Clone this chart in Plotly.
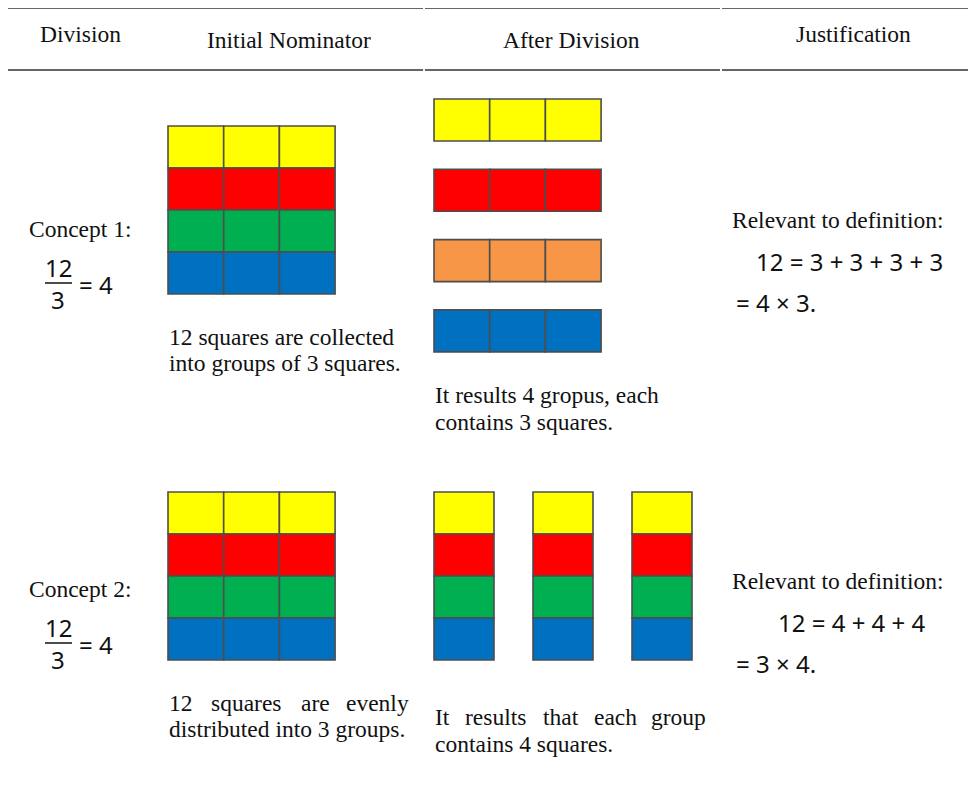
import plotly.graph_objects as go

# ---------------- data ----------------
header_labels = ["Division", "Initial Nominator", "After Division", "Justification"]
grid_row_colors = ["#FFFF00", "#FF0000", "#00B050", "#0070C0"]   # 12 squares: 4 rows x 3
grid_cols = 3
c1_group_colors = ["#FFFF00", "#FF0000", "#F79646", "#0070C0"]  # 4 groups of 3
c1_group_size = 3
c2_group_count = 3                                              # 3 groups of 4
c2_square_colors = ["#FFFF00", "#FF0000", "#00B050", "#0070C0"]

concept_labels = ["Concept 1:", "Concept 2:"]
fraction_num, fraction_den, fraction_res = "12", "3", "= 4"
c1_initial_text = ["12 squares are collected", "into groups of 3 squares."]
c1_after_text = ["It results 4 gropus, each", "contains 3 squares."]
c2_initial_text = ["12 squares are evenly", "distributed into 3 groups."]
c2_after_text = ["It results that each group", "contains 4 squares."]
just_title = "Relevant to definition:"
c1_math = ["12 = 3 + 3 + 3 + 3", "= 4 × 3."]
c2_math = ["12 = 4 + 4 + 4", "= 3 × 4."]

# ---------------- layout constants ----------------
W, H = 976, 790
OFF = 8  # page body margin
SERIF = "Liberation Serif"
MATH = "Noto Sans"
FS = 23.5
MFS = 24
TXT = "#111111"
EDGE = "#4d4d4d"
CELL_W, CELL_H = 55.7, 42.0

fig = go.Figure()
shapes = []
annots = []


def text(x, y, s, anchor="left", size=FS, family=SERIF):
    annots.append(dict(x=x, y=y, xref="x", yref="y", text=s, showarrow=False,
                       xanchor=anchor, yanchor="middle", borderpad=0,
                       font=dict(family=family, size=size, color=TXT)))


def rect(x0, y0, x1, y1, color):
    shapes.append(dict(type="rect", xref="x", yref="y", x0=x0, y0=y0, x1=x1, y1=y1,
                       fillcolor=color, line=dict(color=EDGE, width=1.6), layer="above"))


def hline(y, x0, x1, color="#666666", width=2):
    shapes.append(dict(type="line", xref="x", yref="y", x0=x0, x1=x1, y0=y, y1=y,
                       line=dict(color=color, width=width)))


TW = {'a': 444, 'b': 500, 'c': 444, 'd': 500, 'e': 444, 'f': 333, 'g': 500, 'h': 500,
      'i': 278, 'j': 278, 'k': 500, 'l': 278, 'm': 778, 'n': 500, 'o': 500, 'p': 500,
      'q': 500, 'r': 333, 's': 389, 't': 278, 'u': 500, 'v': 500, 'w': 722, 'x': 500,
      'y': 500, 'z': 444, 'I': 333, '.': 250, ',': 250, ':': 278, ' ': 250}


def tw(s, size=FS):
    return sum(TW.get(ch, 500) for ch in s) * size / 1000.0


def justified(x0, x1, y, line):
    words = line.split()
    widths = [tw(w) for w in words]
    gap = (x1 - x0 - sum(widths)) / (len(words) - 1)
    x = x0
    for i, w in enumerate(words):
        if i == len(words) - 1:
            text(x1, y, w, anchor="right")
        else:
            text(x, y, w)
        x += widths[i] + gap


# rules
for y in (8, 70):
    hline(y, 3, 423)
    hline(y, 425, 720)
    hline(y, 722, 976)

# headers
header_x = [80, 289, 571, 853]
header_y = [34, 40, 40, 34]
for lab, hx, hy in zip(header_labels, header_x, header_y):
    text(hx, hy, lab, anchor="center")

# initial 12-square grids
for gy in (126, 492):
    for r, col in enumerate(grid_row_colors):
        for c in range(grid_cols):
            rect(168 + c * CELL_W, gy + r * CELL_H, 168 + (c + 1) * CELL_W, gy + (r + 1) * CELL_H, col)

# concept 1 after division: 4 rows of 3
for g, col in enumerate(c1_group_colors):
    y0 = 99 + g * 70.3
    for c in range(c1_group_size):
        rect(434 + c * CELL_W, y0, 434 + (c + 1) * CELL_W, y0 + CELL_H, col)

# concept 2 after division: 3 columns of 4
for g in range(c2_group_count):
    x0 = 434 + g * 99
    for r, col in enumerate(c2_square_colors):
        rect(x0, 492 + r * CELL_H, x0 + 60, 492 + (r + 1) * CELL_H, col)

# Division column
for lab, base in zip(concept_labels, (229, 589)):
    text(28, base, lab)
    text(58, base + 38, fraction_num, anchor="center", size=MFS, family=MATH)
    shapes.append(dict(type="line", xref="x", yref="y", x0=45, x1=72, y0=base + 54, y1=base + 54,
                       line=dict(color=TXT, width=1.5)))
    text(58, base + 70, fraction_den, anchor="center", size=MFS, family=MATH)
    text(78, base + 55, fraction_res, size=MFS, family=MATH)

# texts below pictures
text(168, 337, c1_initial_text[0])
text(168, 363, c1_initial_text[1])
text(434, 395, c1_after_text[0])
text(434, 422, c1_after_text[1])
justified(168, 410, 703, c2_initial_text[0])
text(168, 729, c2_initial_text[1])
justified(434, 707, 717, c2_after_text[0])
text(434, 744, c2_after_text[1])

# justification column
text(731, 220, just_title)
text(755, 261, c1_math[0], size=MFS, family=MATH)
text(735, 302, c1_math[1], size=MFS, family=MATH)
text(731, 581, just_title)
text(777, 622, c2_math[0], size=MFS, family=MATH)
text(735, 663, c2_math[1], size=MFS, family=MATH)

fig.update_layout(
    width=W - OFF, height=H - OFF, autosize=False,
    margin=dict(l=0, r=0, t=0, b=0),
    paper_bgcolor="white", plot_bgcolor="white",
    xaxis=dict(range=[OFF, W], visible=False, fixedrange=True),
    yaxis=dict(range=[H, OFF], visible=False, fixedrange=True),
    shapes=shapes, annotations=annots, showlegend=False,
)
fig.write_html("out.html")
